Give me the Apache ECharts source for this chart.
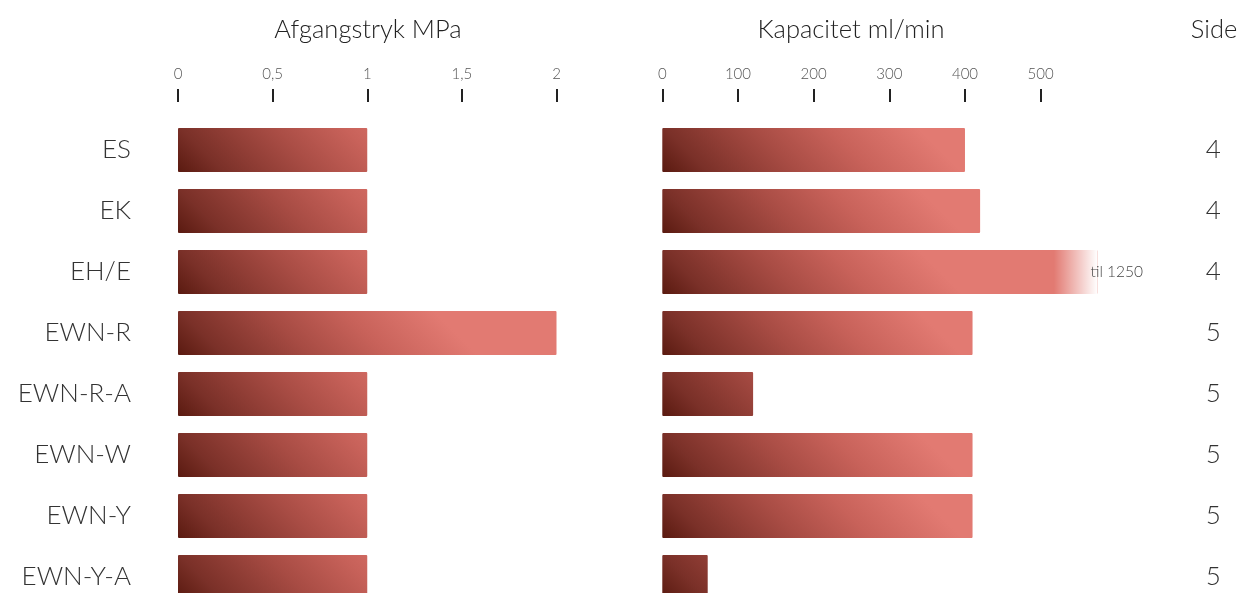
<!DOCTYPE html>
<html>
<head>
<meta charset="utf-8">
<script src="https://cdn.jsdelivr.net/npm/echarts@6/dist/echarts.min.js"></script>
<style>
html,body{margin:0;padding:0;background:#fff;}
#c{width:1241px;height:593px;}
</style>
</head>
<body>
<div id="c"></div>
<script>
const categories = ['ES', 'EK', 'EH/E', 'EWN-R', 'EWN-R-A', 'EWN-W', 'EWN-Y', 'EWN-Y-A'];
const pressure = [1, 1, 1, 2, 1, 1, 1, 1];
const capacity = [400, 420, 1250, 410, 120, 410, 410, 60];
const sides = [4, 4, 4, 5, 5, 5, 5, 5];
const pressureTicks = [0, 0.5, 1, 1.5, 2];
const capacityTicks = [0, 100, 200, 300, 400, 500];

const FONT = 'Lato, "Open Sans", sans-serif';
const capMax = 575;
const gradStops = [
  {offset: 0, color: '#5a1a10'},
  {offset: 0.15, color: '#7a3028'},
  {offset: 0.45, color: '#a84c44'},
  {offset: 0.7, color: '#c8625a'},
  {offset: 1, color: '#e27a72'}
];

const chart = echarts.init(document.getElementById('c'), null, {renderer: 'canvas'});

function xAxisCfg(gridIndex, max, interval, ticks, fmt) {
  return {
    type: 'value', gridIndex, position: 'top', offset: 17.5,
    min: 0, max, interval,
    axisLine: {show: false},
    axisTick: {show: true, length: 13, lineStyle: {color: '#222', width: 2}, customValues: ticks},
    axisLabel: {show: true, margin: 20, fontSize: 15, color: '#555', fontFamily: FONT, fontWeight: 300,
      customValues: ticks, formatter: fmt},
    splitLine: {show: false}
  };
}

const baseOption = {
  animation: false,
  backgroundColor: '#fff',
  grid: [
    {left: 178, width: 378.5, top: 119.5, height: 488, containLabel: false, outerBoundsMode: 'none'},
    {left: 662.3, width: 435.1, top: 119.5, height: 488, containLabel: false, outerBoundsMode: 'none'}
  ],
  xAxis: [
    xAxisCfg(0, 2, 0.5, pressureTicks, v => String(v).replace('.', ',')),
    xAxisCfg(1, capMax, 100, capacityTicks, v => String(v))
  ],
  yAxis: [
    {type: 'category', gridIndex: 0, data: categories, inverse: true,
      axisLine: {show: false}, axisTick: {show: false},
      axisLabel: {margin: 47, fontSize: 26, color: '#333', fontFamily: FONT, fontWeight: 300}},
    {type: 'category', gridIndex: 1, data: categories, inverse: true, position: 'right',
      axisLine: {show: false}, axisTick: {show: false},
      axisLabel: {margin: 116, align: 'center', fontSize: 26, color: '#333', fontFamily: FONT, fontWeight: 300,
        formatter: (v, i) => String(sides[i])}}
  ],
  graphic: [
    {type: 'text', x: 368, y: 30, style: {text: 'Afgangstryk MPa', align: 'center', verticalAlign: 'middle',
      font: '300 25.5px ' + FONT, fill: '#222'}},
    {type: 'text', x: 851, y: 30, style: {text: 'Kapacitet ml/min', align: 'center', verticalAlign: 'middle',
      font: '300 25.5px ' + FONT, fill: '#222'}},
    {type: 'text', x: 1214, y: 30, style: {text: 'Side', align: 'center', verticalAlign: 'middle',
      font: '300 25.5px ' + FONT, fill: '#222'}}
  ],
  series: [
    {name: 'Afgangstryk', type: 'bar', xAxisIndex: 0, yAxisIndex: 0, barWidth: 44, clip: true,
      itemStyle: {color: '#b0524a', borderRadius: 1}, data: pressure.slice()},
    {name: 'Kapacitet', type: 'bar', xAxisIndex: 1, yAxisIndex: 1, barWidth: 44, clip: true,
      itemStyle: {color: '#b0524a', borderRadius: 1}, data: capacity.slice()},
    {name: 'fade', type: 'bar', xAxisIndex: 1, yAxisIndex: 1, barWidth: 44, barGap: '-100%', clip: true,
      itemStyle: {color: new echarts.graphic.LinearGradient(0, 0, 1, 0, [
        {offset: 0, color: 'rgba(255,255,255,0)'},
        {offset: 0.9, color: 'rgba(255,255,255,0)'},
        {offset: 1, color: 'rgba(255,255,255,1)'}
      ])},
      label: {show: true, position: 'right', distance: -7, fontSize: 15.5, color: '#444', fontFamily: FONT,
        fontWeight: 300, formatter: p => 'til ' + p.value},
      data: capacity.map(v => v > capMax ? v : '-')}
  ]
};

chart.setOption(baseOption);

function styled(values, gridIndex, max) {
  const L = 150, h = 44;
  return values.map((v, i) => {
    const x0 = chart.convertToPixel({gridIndex}, [0, i])[0];
    const x1 = chart.convertToPixel({gridIndex}, [Math.min(v, max), i])[0];
    const w = Math.max(1, x1 - x0);
    return {
      value: v,
      itemStyle: {color: new echarts.graphic.LinearGradient(0, 1, L / w, 1 - L / h, gradStops)}
    };
  });
}

chart.setOption({
  series: [
    {name: 'Afgangstryk', data: styled(pressure, 0, 2)},
    {name: 'Kapacitet', data: styled(capacity, 1, capMax)}
  ]
});
</script>
</body>
</html>
